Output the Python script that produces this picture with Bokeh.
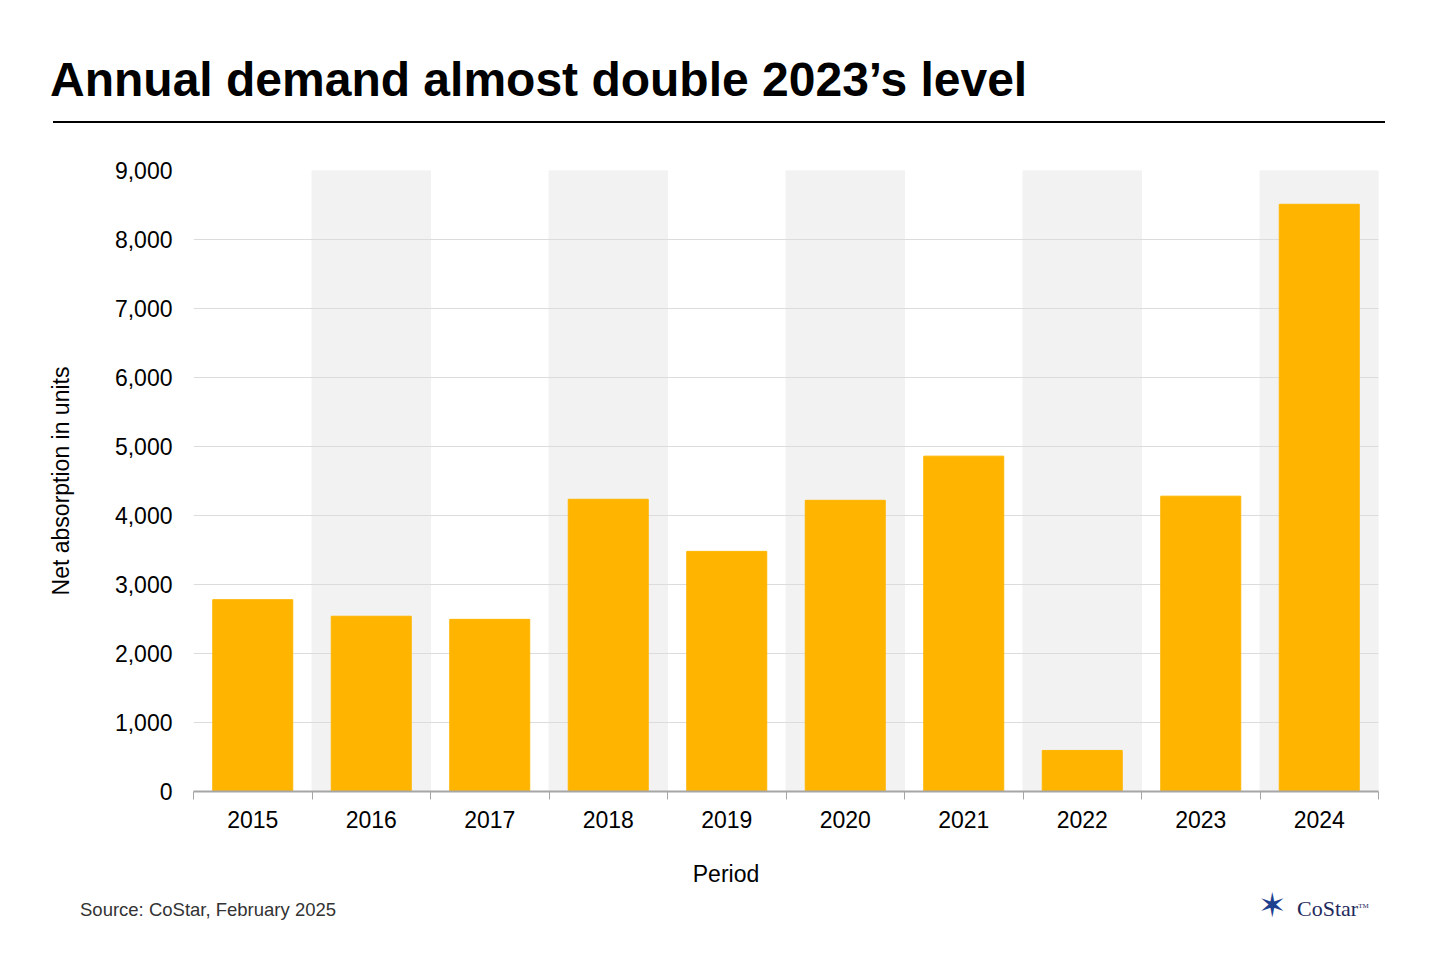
from bokeh.plotting import figure
from bokeh.models import FixedTicker, NumeralTickFormatter, Div
from bokeh.layouts import column
from bokeh.embed import file_html
from bokeh.resources import INLINE

years = ["2015", "2016", "2017", "2018", "2019", "2020", "2021", "2022", "2023", "2024"]
absorption = [2780, 2540, 2495, 4235, 3480, 4220, 4860, 595, 4280, 8510]
y_ticks = [0, 1000, 2000, 3000, 4000, 5000, 6000, 7000, 8000, 9000]

W = 1424
TOP_H, FIG_H, FOOT_H = 130, 720, 94
FL = 193  # frame left in page pixels
frame_bottom = 791 - TOP_H

p = figure(width=W, height=FIG_H, output_backend="svg", toolbar_location=None,
           x_range=(0, len(years)), y_range=(0, 9000),
           min_border_left=FL, min_border_right=W - 1378, min_border_top=170 - TOP_H,
           min_border_bottom=FIG_H - frame_bottom)
p.outline_line_color = None
p.background_fill_color = "white"
p.border_fill_color = "white"

xs = [i + 0.5 for i in range(len(years))]
band_x = [x for i, x in enumerate(xs) if i % 2 == 1]
p.vbar(x=band_x, top=9000, width=1.0, color="#f2f2f2", level="underlay")
p.vbar(x=xs, top=absorption, width=0.675, color="#ffb500")

p.xgrid.visible = False
p.ygrid.grid_line_color = "#dcdcdc"
p.ygrid.level = "underlay"

p.yaxis.ticker = FixedTicker(ticks=y_ticks)
p.yaxis.formatter = NumeralTickFormatter(format="0,0")
p.yaxis.axis_line_color = None
p.yaxis.major_tick_line_color = None
p.yaxis.minor_tick_line_color = None
p.yaxis.major_label_text_font_size = "23px"
p.yaxis.major_label_text_font = "Liberation Sans"
p.yaxis.major_label_text_color = "black"
p.yaxis.major_label_standoff = 15
p.yaxis.axis_label = "Net absorption in units"
p.yaxis.axis_label_text_font = "Liberation Sans"
p.yaxis.axis_label_text_font_style = "normal"
p.yaxis.axis_label_text_font_size = "23px"
p.yaxis.axis_label_text_color = "black"
p.yaxis.axis_label_standoff = 38

p.xaxis.ticker = FixedTicker(ticks=xs, minor_ticks=list(range(len(years) + 1)))
p.xaxis.major_label_overrides = {x: y for x, y in zip(xs, years)}
p.xaxis.major_tick_line_color = None
p.xaxis.minor_tick_line_color = "#a6a6a6"
p.xaxis.minor_tick_out = 8
p.xaxis.minor_tick_in = 0
p.xaxis.axis_line_color = "#a6a6a6"
p.xaxis.axis_line_width = 2
p.xaxis.major_label_text_font_size = "23px"
p.xaxis.major_label_text_font = "Liberation Sans"
p.xaxis.major_label_text_color = "black"
p.xaxis.major_label_standoff = 11

title_html = (
    '<div style="position:relative;width:1424px;height:130px;font-family:\'Liberation Sans\';">'
    '<div style="position:absolute;left:50px;top:50px;font-size:48px;font-weight:bold;'
    'line-height:60px;color:black;white-space:nowrap;">'
    'Annual demand almost double 2023\u2019s level</div>'
    '<div style="position:absolute;left:53px;top:121px;width:1332px;height:2px;background:black;"></div>'
    '</div>'
)
foot_html = (
    '<div style="position:relative;width:1424px;height:94px;font-family:\'Liberation Sans\';">'
    '<div style="position:absolute;left:6px;width:1440px;top:8px;text-align:center;font-size:23px;'
    'color:black;">Period</div>'
    '<div style="position:absolute;left:80px;top:47px;font-size:18.5px;color:#333;white-space:nowrap;">'
    'Source: CoStar, February 2025</div>'
    '<div style="position:absolute;left:1258px;top:37px;font-size:34px;color:#1f3f8f;'
    'font-family:\'DejaVu Sans\';line-height:36px;">\u2736</div>'
    '<div style="position:absolute;left:1297px;top:43px;font-size:22px;color:#1f2a5c;'
    'font-family:\'Liberation Serif\';white-space:nowrap;">CoStar<sup style="font-size:7px;">TM</sup></div>'
    '</div>'
)
top = Div(text=title_html, width=W, height=TOP_H, margin=0)
foot = Div(text=foot_html, width=W, height=FOOT_H, margin=0)

layout = column(top, p, foot, spacing=0)
open("out.html", "w").write(file_html(layout, INLINE))
